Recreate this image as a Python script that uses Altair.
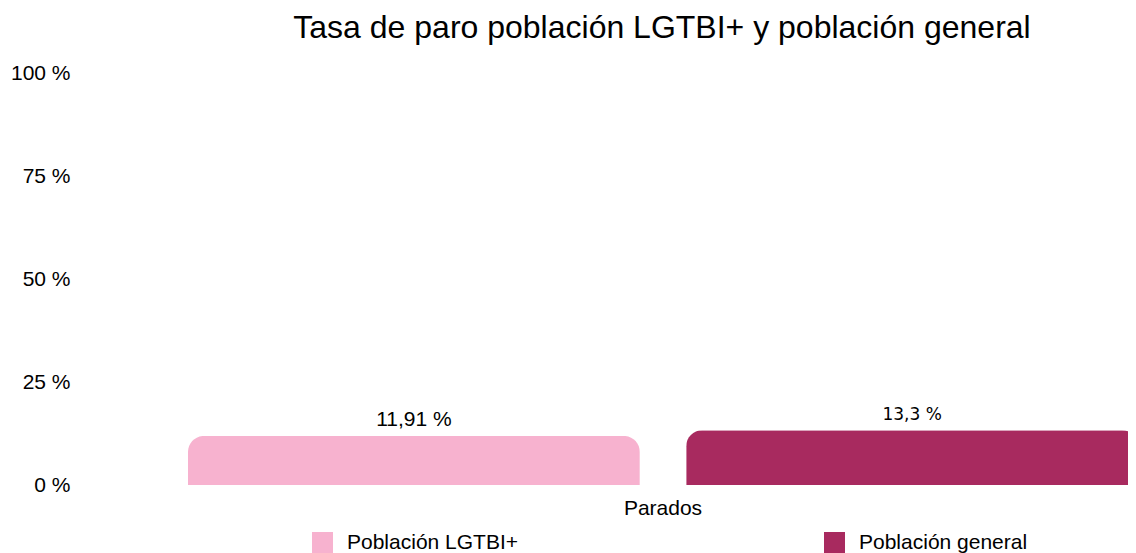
import altair as alt
import pandas as pd

# ---- data ----
categories = ["Parados", "Parados"]
series = ["Población LGTBI+", "Población general"]
values = [11.91, 13.3]
labels = ["11,91 %", "13,3 %"]
colors = ["#F7B2CF", "#A82A5F"]
y_ticks = [0, 25, 50, 75, 100]
title_text = "Tasa de paro población LGTBI+ y población general"

df = pd.DataFrame({
    "categoria": categories,
    "serie": series,
    "valor": values,
    "etiqueta": labels,
})

FONT = "Liberation Sans"

x_enc = alt.X(
    "categoria:N",
    scale=alt.Scale(paddingInner=0, paddingOuter=0, range=[0, 950]),
    axis=alt.Axis(title=None, labelAngle=0, ticks=False, domain=False,
                  labelFontSize=21, labelFont=FONT, labelColor="#000000",
                  labelPadding=12),
)
xo_enc = alt.XOffset("serie:N", sort=series,
                     scale=alt.Scale(paddingInner=0.093, paddingOuter=0))
y_enc = alt.Y(
    "valor:Q",
    scale=alt.Scale(domain=[0, 100]),
    axis=alt.Axis(values=y_ticks, labelExpr="datum.value + ' %'", title=None,
                  grid=False, ticks=False, domain=False, labelFontSize=21,
                  labelFont=FONT, labelColor="#000000", labelPadding=118),
)

bars = alt.Chart(df).mark_bar(
    cornerRadiusTopLeft=16, cornerRadiusTopRight=16
).encode(
    x=x_enc,
    xOffset=xo_enc,
    y=y_enc,
    color=alt.Color(
        "serie:N", sort=series,
        scale=alt.Scale(domain=series, range=colors),
        legend=alt.Legend(
            orient="none", legendX=124, legendY=459, direction="horizontal",
            title=None, symbolType="square", symbolSize=441,
            symbolStrokeWidth=0, symbolOpacity=1, labelFontSize=21,
            labelFont=FONT, labelColor="#000000", labelOffset=14,
            columnPadding=305, padding=0, labelLimit=400,
        ),
    ),
)

text1 = alt.Chart(df).transform_filter(
    alt.datum.serie == series[0]
).mark_text(font=FONT, fontSize=21, baseline="alphabetic", dy=-10,
            color="#000000").encode(
    x=x_enc, xOffset=xo_enc, y=y_enc, text="etiqueta:N"
)

text2 = alt.Chart(df).transform_filter(
    alt.datum.serie == series[1]
).mark_text(font="DejaVu Sans", fontSize=17, baseline="alphabetic", dy=-10,
            color="#000000").encode(
    x=x_enc, xOffset=xo_enc, y=y_enc, text="etiqueta:N"
)

chart = alt.layer(bars, text1, text2).properties(
    width=940,
    height=412,
    title=alt.Title(title_text, fontSize=32, font=FONT, fontWeight="normal",
                    color="#000000", anchor="middle", frame="group", offset=17,
                    dx=4),
    autosize=alt.AutoSizeParams(type="none"),
    padding={"left": 180, "top": 65, "right": 0, "bottom": 68},
).configure_view(stroke=None)

chart.save("out.html", embed_options={"renderer": "svg", "actions": False})
